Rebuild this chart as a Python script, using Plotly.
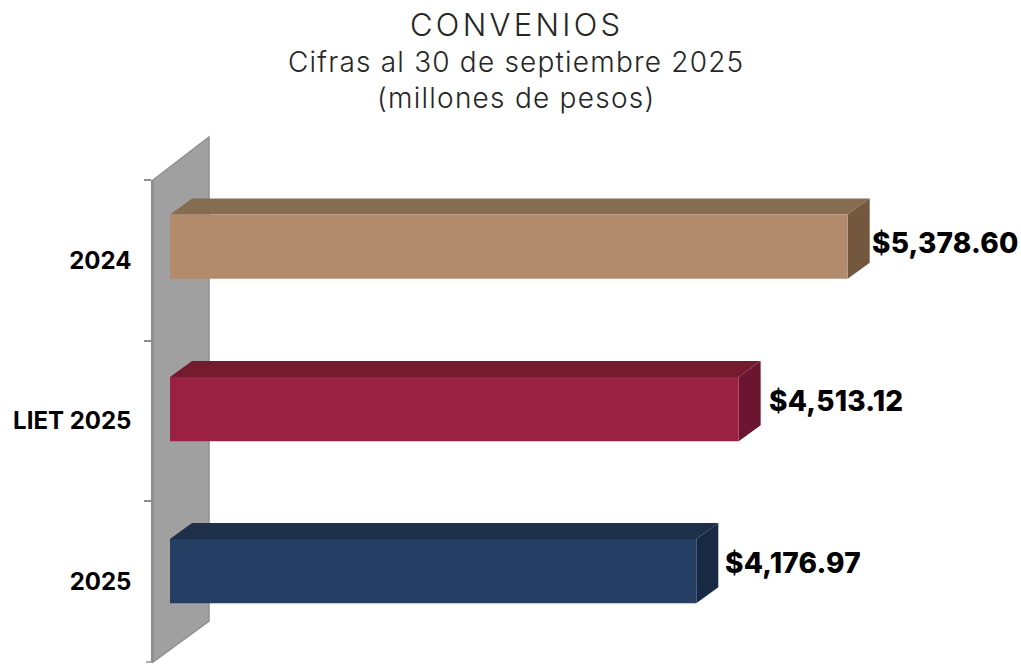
import plotly.graph_objects as go

# chart values
categories = ['2024', 'LIET 2025', '2025']
values = [5378.60, 4513.12, 4176.97]
value_labels = ['$5,378.60', '$4,513.12', '$4,176.97']

# front / top / side colors of each 3D bar
front_colors = ['#b18b6c', '#9b2142', '#243f63']
top_colors = ['#866c50', '#751b30', '#1e3049']
side_colors = ['#73583f', '#6b1530', '#182a43']

FONT = 'Inter'
WIDTH, HEIGHT = 1021, 664
M_L, M_R, M_T, M_B = 153, 0, 180, 2
PLOT_W = WIDTH - M_L - M_R
PLOT_H = HEIGHT - M_T - M_B
PX_PER_UNIT = 0.126         # px per million pesos
ZERO_PAD = 17               # bar start is 17px right of the axis line
BAR_W = 0.4
BAR_OFFSET = [-0.285, -0.274, -0.266]   # bars sit above the category center (3D look)
DEPTH_X = 22 / PX_PER_UNIT  # 3D depth of bars in axis units
DEPTH_Y = 16 / (PLOT_H / 3)
LABEL_SHIFT = [22, 28, 27]
LABEL_LIFT = [17, 20, 19]
AXIS_GRAY = '#8f8f8f'

fig = go.Figure()

fig.add_trace(go.Bar(
    y=categories, x=values, orientation='h',
    width=BAR_W, offset=BAR_OFFSET,
    marker=dict(color=front_colors, line=dict(width=0)),
    showlegend=False, hoverinfo='x+y'
))

# 1. Back wall of the chart
wx, wy_top, wy_bot = 56 / PLOT_W, 43 / PLOT_H, 41 / PLOT_H
shapes = [dict(
    type='path', xref='paper', yref='paper', layer='below',
    path=f'M 0 1 L {wx} {1 + wy_top} L {wx} {wy_bot} L 0 0 Z',
    fillcolor='#a0a0a0', line=dict(color=AXIS_GRAY, width=1.5)
)]
# plotly drops the last boundary tick, so add it by hand
shapes.append(dict(
    type='line', xref='paper', yref='paper', x0=-7 / PLOT_W, x1=0, y0=0, y1=0,
    line=dict(color=AXIS_GRAY, width=1.5)
))

# 2. Top and side faces of the bars
for i, val in enumerate(values):
    t = i + BAR_OFFSET[i]
    b = t + BAR_W
    shapes.append(dict(
        type='path', layer='below', line=dict(width=0), fillcolor=top_colors[i],
        path=f'M 0 {t} L {DEPTH_X} {t - DEPTH_Y} L {val + DEPTH_X} {t - DEPTH_Y} L {val} {t} Z'
    ))
    shapes.append(dict(
        type='path', layer='below', line=dict(width=0), fillcolor=side_colors[i],
        path=f'M {val} {t} L {val + DEPTH_X} {t - DEPTH_Y} L {val + DEPTH_X} {b - DEPTH_Y} L {val} {b} Z'
    ))

# 3. Value labels and titles (Inter is narrower than the original font, hence the spacing)
annotations = []
for i, val in enumerate(values):
    annotations.append(dict(
        x=val, y=i, text=f'<span style="letter-spacing:0.2px">{value_labels[i]}</span>', showarrow=False,
        xanchor='left', xshift=LABEL_SHIFT[i], yshift=LABEL_LIFT[i],
        font=dict(family=FONT, size=28, color='black', weight=800)
    ))

title_lines = [('CONVENIOS', 31, 156, 3.3), ('Cifras al 30 de septiembre 2025', 28, 118, 1.2), ('(millones de pesos)', 28, 82, 1.25)]
for text, size, lift, spacing in title_lines:
    annotations.append(dict(
        xref='x domain', yref='paper', x=(516 - M_L) / PLOT_W, y=1, yshift=lift,
        text=f'<span style="letter-spacing:{spacing}px">{text}</span>',
        showarrow=False, xanchor='center', yanchor='middle',
        font=dict(family=FONT, size=size, color='#262626', weight=300)
    ))

fig.update_layout(
    width=WIDTH, height=HEIGHT,
    margin=dict(l=M_L, r=M_R, t=M_T, b=M_B),
    paper_bgcolor='white', plot_bgcolor='rgba(0,0,0,0)',
    shapes=shapes, annotations=annotations,
    xaxis=dict(
        range=[-ZERO_PAD / PX_PER_UNIT, (PLOT_W - ZERO_PAD) / PX_PER_UNIT],
        visible=False
    ),
    yaxis=dict(
        type='category', categoryorder='array', categoryarray=categories,
        range=[2.5, -0.5],
        showgrid=False, zeroline=False,
        showline=True, linecolor=AXIS_GRAY, linewidth=1.5,
        ticks='outside', tickson='boundaries', ticklen=7, tickcolor=AXIS_GRAY, tickwidth=1.5,
        ticklabelstandoff=15,
        tickfont=dict(family=FONT, size=24, color='black', weight=700)
    )
)

# page margin would shift the fixed-size figure by 8px
fig.write_html('out.html', config=dict(displayModeBar=False), post_script="document.body.style.margin='0';")
